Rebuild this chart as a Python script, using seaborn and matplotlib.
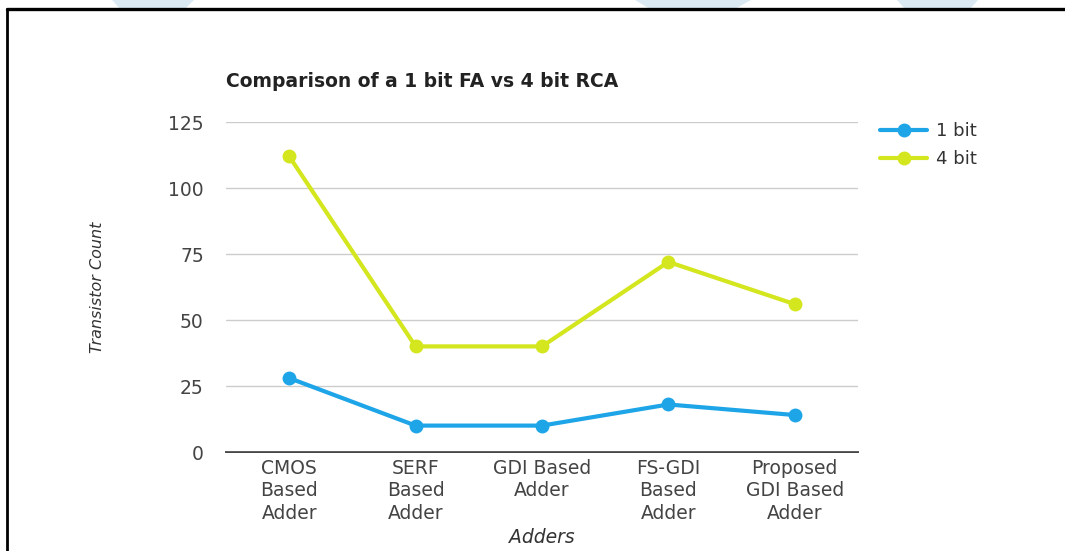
import matplotlib
matplotlib.use("Agg")
import matplotlib.pyplot as plt
import seaborn as sns
import pandas as pd
from matplotlib.lines import Line2D
from matplotlib.patches import Polygon

categories = ["CMOS\nBased\nAdder", "SERF\nBased\nAdder", "GDI Based\nAdder",
              "FS-GDI\nBased\nAdder", "Proposed\nGDI Based\nAdder"]
one_bit = [28, 10, 10, 18, 14]
four_bit = [112, 40, 40, 72, 56]
series_names = ["1 bit", "4 bit"]
y_ticks = [0, 25, 50, 75, 100, 125]

df = pd.DataFrame({
    "Adders": categories * 2,
    "Transistor Count": one_bit + four_bit,
    "Series": [series_names[0]] * len(categories) + [series_names[1]] * len(categories),
})

sns.set_theme(style="white")
plt.rcParams["font.family"] = ["DejaVu Sans"]

W, H = 1065, 551
fig = plt.figure(figsize=(W / 100, H / 100), dpi=100)
fig.patch.set_facecolor("white")

# decorative watermark shapes and frame
wm = "#dbeaf2"
for (x0, x1, x2, x3) in [(112, 194, 185, 120), (635, 751, 735, 650), (897, 978, 970, 905)]:
    fig.patches.append(Polygon([(x0 / W, 1), (x1 / W, 1), (x2 / W, 1 - 9 / H), (x3 / W, 1 - 9 / H)],
                               closed=True, transform=fig.transFigure, facecolor=wm,
                               edgecolor="none", zorder=0))
fig.add_artist(Line2D([7 / W, 1], [1 - 9 / H, 1 - 9 / H], transform=fig.transFigure,
                      color="black", lw=2.4, zorder=5))
fig.add_artist(Line2D([7 / W, 7 / W], [0, 1 - 9 / H], transform=fig.transFigure,
                      color="black", lw=2.0, zorder=5))

ax = fig.add_axes([226 / W, 1 - 452 / H, 632 / W, 330 / H])

palette = {"1 bit": "#1ea5e8", "4 bit": "#d3e61e"}
sns.lineplot(data=df, x="Adders", y="Transistor Count", hue="Series", palette=palette,
             marker="o", markersize=10, markeredgewidth=0, linewidth=3, sort=False, ax=ax)

ax.set_xlim(-0.5, len(categories) - 0.5)
ax.set_ylim(0, 125)
ax.set_yticks(y_ticks)
ax.yaxis.grid(True, color="#cccccc", linewidth=1)
ax.set_axisbelow(True)
for s in ["top", "right", "left"]:
    ax.spines[s].set_visible(False)
ax.spines["bottom"].set_color("#333333")
ax.spines["bottom"].set_linewidth(1.3)
ax.spines["bottom"].set_zorder(0.5)

ax.tick_params(axis="y", length=0, pad=16, labelsize=13.5, labelcolor="#444444")
ax.tick_params(axis="x", length=0, pad=5, labelsize=13.5, labelcolor="#444444")
for lab in ax.get_xticklabels():
    lab.set_linespacing(1.22)

ax.set_xlabel("Adders", fontstyle="italic", fontsize=13.5, color="#333333")
ax.set_ylabel("Transistor Count", fontstyle="italic", fontsize=11.5, color="#333333")
ax.xaxis.set_label_coords(0.5, (452 - 528) / 330)
ax.yaxis.set_label_coords((97 - 226) / 632, 0.5)
ax.yaxis.label.set_va("center")

ax.set_title("Comparison of a 1 bit FA vs 4 bit RCA", loc="left", fontweight="bold",
             fontsize=13.5, color="#222222", pad=25)

handles, labels = ax.get_legend_handles_labels()
ax.legend(handles, labels, loc="upper left", bbox_to_anchor=(864 / W, 1 - 106 / H),
          bbox_transform=fig.transFigure, frameon=False, fontsize=13, handlelength=2.6,
          labelspacing=0.55, handletextpad=0.5, labelcolor="#333333")

fig.savefig("out.png", dpi=100)
